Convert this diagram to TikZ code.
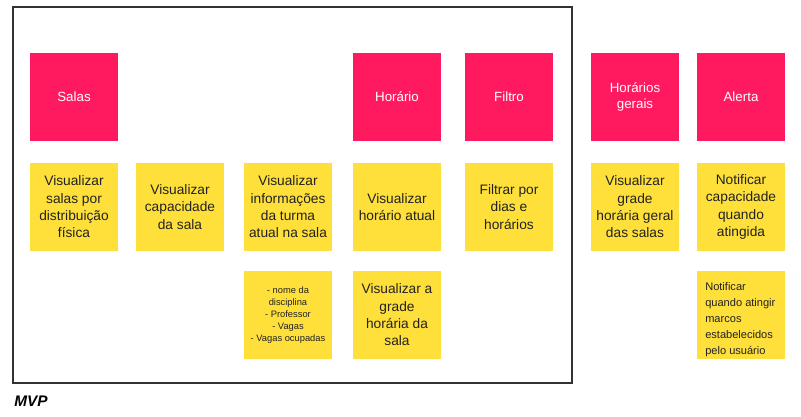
\documentclass[tikz,border=0pt]{standalone}
\usepackage{fontspec}
\setmainfont{Liberation Sans}
\usepackage{tikz}
\usetikzlibrary{positioning}

\definecolor{tagpink}{RGB}{255,25,94}
\definecolor{notey}{RGB}{255,224,58}
\definecolor{notetxt}{RGB}{34,34,34}
\definecolor{frameline}{RGB}{50,50,50}

\tikzset{
	tag/.style={fill=tagpink, draw=none, minimum width=66pt, minimum height=66pt, inner sep=0pt, text=white, align=center, font=\fontsize{10}{12.5}\selectfont},
	note/.style={fill=notey, draw=none, minimum width=66pt, minimum height=66pt, inner sep=0pt, text=notetxt, align=center, font=\fontsize{10.3}{13}\selectfont},
	smallnote/.style={note, font=\fontsize{7}{9}\selectfont},
}

\begin{document}
\begin{tikzpicture}[x=0.75pt,y=0.75pt,yscale=-1,xscale=1]
	\path (0,0) rectangle (801,417);

	%MVP frame
	\draw [color=frameline, line width=0.9pt] (13,7) rectangle (572,383);

	% Tags
	\node [tag] (salas) at (74,97) {Salas};
	\node [tag] (horario) at (397,97) {Horário};
	\node [tag] (filtro) at (509,97) {Filtro};
	\node [tag] (gerais) at (635,97) {Horários\\gerais};
	\node [tag] (alerta) at (741,97) {Alerta};

	% Notes, first row
	\node [note] (distrib) at (74,207) {Visualizar\\salas por\\distribuição\\física};
	\node [note] (capac) at (180,207) {Visualizar\\capacidade\\da sala};
	\node [note] (turma) at (288,207) {Visualizar\\informações\\da turma\\atual na sala};
	\node [note] (atual) at (397,207) {Visualizar\\horário atual};
	\node [note] (filtrar) at (509,207) {Filtrar por\\dias e\\horários};
	\node [note] (grade) at (635,207) {Visualizar\\grade\\horária geral\\das salas};
	\node [note] (notif) at (741,207) {Notificar\\capacidade\\quando\\atingida};

	% Notes, second row
	\node [smallnote] (campos) at (288,315) {- nome da\\disciplina\\- Professor\\- Vagas\\- Vagas ocupadas};
	\node [note] (gradesala) at (397,315) {Visualizar a\\grade\\horária da\\sala};
	\node [note] (marcos) at (741,315) {};
	\node [anchor=north west, inner sep=0pt, align=left, text=notetxt, font=\fontsize{8.3}{12}\selectfont] (marcostxt) at (705,282) {Notificar\\quando atingir\\marcos\\estabelecidos\\pelo usuário};

	% Text Node
	\node [anchor=west, inner sep=0pt, font=\fontsize{11.5}{13}\selectfont\bfseries\itshape] (mvp) at (14,401) {MVP};
\end{tikzpicture}
\end{document}
